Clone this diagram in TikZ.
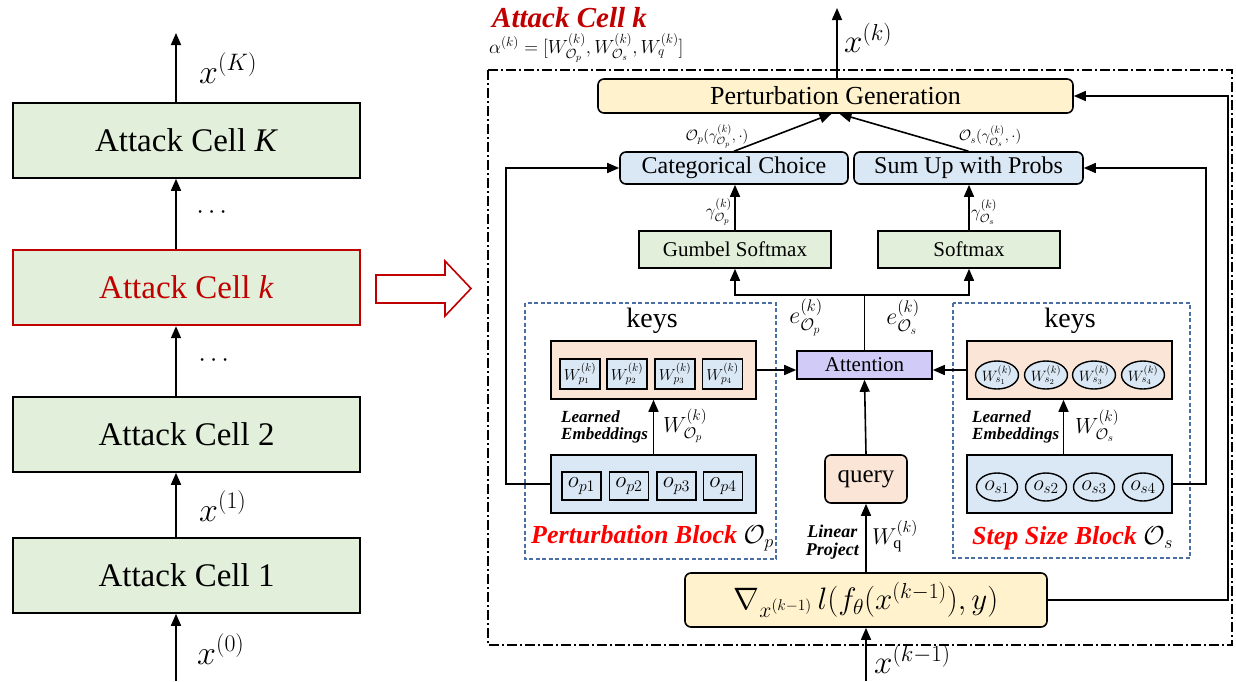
\RequirePackage{fix-cm}
\documentclass[tikz,border=0pt]{standalone}
\usepackage{fontspec}
\setmainfont{Liberation Serif}
\usepackage{amsmath}
\usetikzlibrary{arrows.meta,calc,shapes.geometric}
\definecolor{cellgreen}{HTML}{E2EFDA}
\definecolor{lblue}{HTML}{DAE8F5}
\definecolor{peach}{HTML}{FBE5D6}
\definecolor{lyellow}{HTML}{FFF2CC}
\definecolor{lav}{HTML}{D1CCF7}
\definecolor{cred}{HTML}{C00000}
\definecolor{bred}{HTML}{FF0000}
\definecolor{dblue}{HTML}{4A6FA5}
\newcommand{\fs}[1]{\fontsize{#1}{#1}\selectfont}
\begin{document}
\begin{tikzpicture}[x=1pt,y=-1pt,
  box/.style={draw, line width=1.6pt, inner sep=0pt},
  cell/.style={box, fill=cellgreen, minimum width=347pt, minimum height=75pt, font=\fs{33}},
  rbox/.style={box, rounded corners=6pt},
  arr/.style={line width=1.6pt, -{Triangle[length=12pt,width=10pt]}},
  ln/.style={line width=1.6pt},
  wbox/.style={draw, line width=1.4pt, fill=lblue, minimum width=40pt, minimum height=30pt, inner sep=0pt, font=\fs{16}},
  obox/.style={draw, line width=1.4pt, minimum width=39pt, minimum height=28pt, inner sep=0pt, font=\fs{23}},
  ell/.style={draw, ellipse, line width=1.4pt, minimum width=41pt, minimum height=28pt, inner sep=0pt},
  blockdash/.style={draw=dblue, line width=1.2pt, dash pattern=on 4pt off 2.5pt},
  emb/.style={font=\fs{17}\bfseries\itshape, align=left, inner sep=0pt},
  blab/.style={font=\fs{26}\bfseries\itshape, text=bred, inner sep=0pt, anchor=west},
  mlab/.style={inner sep=0pt},
]
\useasboundingbox[fill=white] (0,0) rectangle (1236,681);

% ---------------- left column ----------------
\node[cell] (cK) at (186.5,140.5) {Attack Cell \textit{K}};
\node[cell, draw=cred, text=cred, line width=2.4pt] (ck) at (186.5,287.5) {Attack Cell \textit{k}};
\node[cell] (c2) at (186.5,434.5) {Attack Cell 2};
\node[cell] (c1) at (186.5,575.5) {Attack Cell 1};
\coordinate (colx) at (176,0);
\coordinate (topout) at (176,33);
\coordinate (botin) at (176,681);
\draw[arr] (cK.north -| colx) -- (topout);
\draw[arr] (ck.north -| colx) -- (cK.south -| colx);
\draw[arr] (c2.north -| colx) -- (ck.south -| colx);
\draw[arr] (c1.north -| colx) -- (c2.south -| colx);
\draw[arr] (botin) -- (c1.south -| colx);
\node[mlab, anchor=west, font=\fs{34}] (lK) at (199,68) {$x^{(K)}$};
\node[mlab, anchor=west, font=\fs{34}] (l1) at (199,506) {$x^{(1)}$};
\node[mlab, anchor=west, font=\fs{34}] (l0) at (197,649) {$x^{(0)}$};
\node[mlab, font=\fs{26}] (d1) at (214,213) {$\cdots$};
\node[mlab, font=\fs{26}] (d2) at (216,361) {$\cdots$};
% hollow arrow
\draw[cred, line width=1.6pt, fill=white] (376,275) -- (445,275) -- (445,261) -- (471,288.5) -- (445,316) -- (445,303) -- (376,303) -- cycle;

% ---------------- right panel ----------------
\draw[line width=1.3pt, dash pattern=on 10pt off 3pt on 2pt off 3pt] (488,70) rectangle (1232,645);
\node[anchor=west, font=\fs{29}\bfseries\itshape, text=cred, inner sep=0pt] (title) at (492,18) {Attack Cell k};
\node[mlab, anchor=west, font=\fs{19}] (alpha) at (489,48) {$\alpha^{(k)}=[W^{(k)}_{\mathcal{O}_p},W^{(k)}_{\mathcal{O}_s},W^{(k)}_{q}]$};

% dashed blocks
\draw[blockdash] (525,303) rectangle (776,559);
\draw[blockdash] (953,303) rectangle (1190,558);

\node[rbox, fill=lyellow, minimum width=475pt, minimum height=34pt, font=\fs{26}] (PG) at (835.5,96) {Perturbation Generation};
\node[rbox, fill=lblue, minimum width=228pt, minimum height=32pt, font=\fs{24}] (cat) at (734,168) {Categorical Choice};
\node[rbox, fill=lblue, minimum width=229pt, minimum height=32pt, font=\fs{24}] (sum) at (968.5,168) {Sum Up with Probs};
\node[box, fill=cellgreen, minimum width=192pt, minimum height=37pt, font=\fs{21}] (gum) at (735,249.5) {Gumbel Softmax};
\node[box, fill=cellgreen, minimum width=182pt, minimum height=37pt, font=\fs{21}] (soft) at (969,249.5) {Softmax};
\node[box, fill=lav, minimum width=135pt, minimum height=28pt, font=\fs{21}] (att) at (864.5,365) {Attention};
\node[rbox, fill=peach, minimum width=82pt, minimum height=48pt, font=\fs{25}] (query) at (866,479) {query};
\node[rbox, fill=lyellow, minimum width=362pt, minimum height=54pt, font=\fs{31}] (grad) at (866,600) {$\nabla_{x^{(k-1)}}\, l(f_\theta(x^{(k-1)}),y)$};

% perturbation block
\node[font=\fs{28}, inner sep=0pt] (keysPl) at (652,321) {keys};
\node[box, fill=peach, minimum width=205pt, minimum height=58pt] (keysP) at (653.5,370) {};
\node[wbox] (wp1) at (580,374) {$W^{(k)}_{p_1}$};
\node[wbox] (wp2) at (627,374) {$W^{(k)}_{p_2}$};
\node[wbox] (wp3) at (675,374) {$W^{(k)}_{p_3}$};
\node[wbox] (wp4) at (722.5,374) {$W^{(k)}_{p_4}$};
\node[box, fill=lblue, minimum width=205pt, minimum height=58pt] (opsP) at (653.5,484) {};
\node[obox] (op1) at (581.5,486) {$o_{p1}$};
\node[obox] (op2) at (629,486) {$o_{p2}$};
\node[obox] (op3) at (676.5,486) {$o_{p3}$};
\node[obox] (op4) at (723,486) {$o_{p4}$};
\node[emb, anchor=west] (embP) at (561,427) {Learned\\Embeddings};
\node[mlab, anchor=west, font=\fs{22}] (WOp) at (663,426) {$W^{(k)}_{\mathcal{O}_p}$};
\node[blab] (pbl) at (531,538) {Perturbation Block \textcolor{black}{\normalfont$\mathcal{O}_p$}};

% step size block
\node[font=\fs{28}, inner sep=0pt] (keysSl) at (1070,321) {keys};
\node[box, fill=peach, minimum width=205pt, minimum height=58pt] (keysS) at (1069.5,370) {};
\node[ell, fill=lblue] (ws1) at (997,375) {\fs{15}$W^{(k)}_{s_1}$};
\node[ell, fill=lblue] (ws2) at (1046,375) {\fs{15}$W^{(k)}_{s_2}$};
\node[ell, fill=lblue] (ws3) at (1094,375) {\fs{15}$W^{(k)}_{s_3}$};
\node[ell, fill=lblue] (ws4) at (1143,375) {\fs{15}$W^{(k)}_{s_4}$};
\node[box, fill=lblue, minimum width=205pt, minimum height=58pt] (opsS) at (1069.5,484) {};
\node[ell] (os1) at (997,487) {\fs{22}$o_{s1}$};
\node[ell] (os2) at (1046,487) {\fs{22}$o_{s2}$};
\node[ell] (os3) at (1094,487) {\fs{22}$o_{s3}$};
\node[ell] (os4) at (1143,487) {\fs{22}$o_{s4}$};
\node[emb, anchor=west] (embS) at (972,427) {Learned\\Embeddings};
\node[mlab, anchor=west, font=\fs{22}] (WOs) at (1075,426) {$W^{(k)}_{\mathcal{O}_s}$};
\node[blab] (sbl) at (972,538) {Step Size Block \textcolor{black}{\normalfont$\mathcal{O}_s$}};

% connectors
\coordinate (xout) at (837,8);
\coordinate (xin) at (866,681);
\draw[arr] (PG.north -| xout) -- (xout);
\node[mlab, anchor=west, font=\fs{33}] (lxk) at (844,38) {$x^{(k)}$};
\draw[arr] (xin) -- (grad.south);
\node[mlab, anchor=west, font=\fs{33}] (lxk1) at (874,659) {$x^{(k-1)}$};
\draw[arr] (grad.north) -- (query.south);
\node[emb, anchor=east, align=center, font=\fs{18}\bfseries\itshape] (lin) at (859,542) {Linear\\Project};
\node[mlab, anchor=west, font=\fs{23}] (Wq) at (872,536) {$W^{(k)}_{\mathrm{q}}$};
\draw[arr] (query.north) -- (att.south);
\draw[arr] (keysP.east) -- (keysP.east -| att.west);
\draw[arr] (keysS.west) -- (keysS.west -| att.east);
\draw[arr] (opsP.north) -- (keysP.south);
\draw[arr] ([xshift=-6pt]opsS.north) -- ([xshift=-6pt]keysS.south);
\coordinate (split) at (864.5,295);
\draw[ln] (att.north) -- (split);
\draw[arr] (split) -| (gum.south);
\draw[arr] (split) -| (soft.south);
\node[mlab, font=\fs{24}] (ep) at (806,317) {$e^{(k)}_{\mathcal{O}_p}$};
\node[mlab, font=\fs{24}] (es) at (903,317) {$e^{(k)}_{\mathcal{O}_s}$};
\draw[arr] (gum.north) -- (gum.north |- cat.south);
\draw[arr] (soft.north) -- (soft.north |- sum.south);
\node[mlab, anchor=east, font=\fs{17}] (gp) at (732,212) {$\gamma^{(k)}_{\mathcal{O}_p}$};
\node[mlab, anchor=west, font=\fs{17}] (gs) at (971,212) {$\gamma^{(k)}_{\mathcal{O}_s}$};
\draw[arr] (cat.north) -- ([xshift=-4pt]PG.south);
\draw[arr] (sum.north) -- ([xshift=4pt]PG.south);
\node[mlab, font=\fs{15}] (opl) at (717,136) {$\mathcal{O}_p(\gamma^{(k)}_{\mathcal{O}_p},\cdot)$};
\node[mlab, font=\fs{15}] (osl) at (990,136) {$\mathcal{O}_s(\gamma^{(k)}_{\mathcal{O}_s},\cdot)$};
\draw[arr] (opsP.west) -- ++(-44,0) |- (cat.west);
\draw[arr] (opsS.east) -- ++(33,0) |- (sum.east);
\draw[arr] (grad.east) -- ++(180,0) |- (PG.east);
\end{tikzpicture}
\end{document}
